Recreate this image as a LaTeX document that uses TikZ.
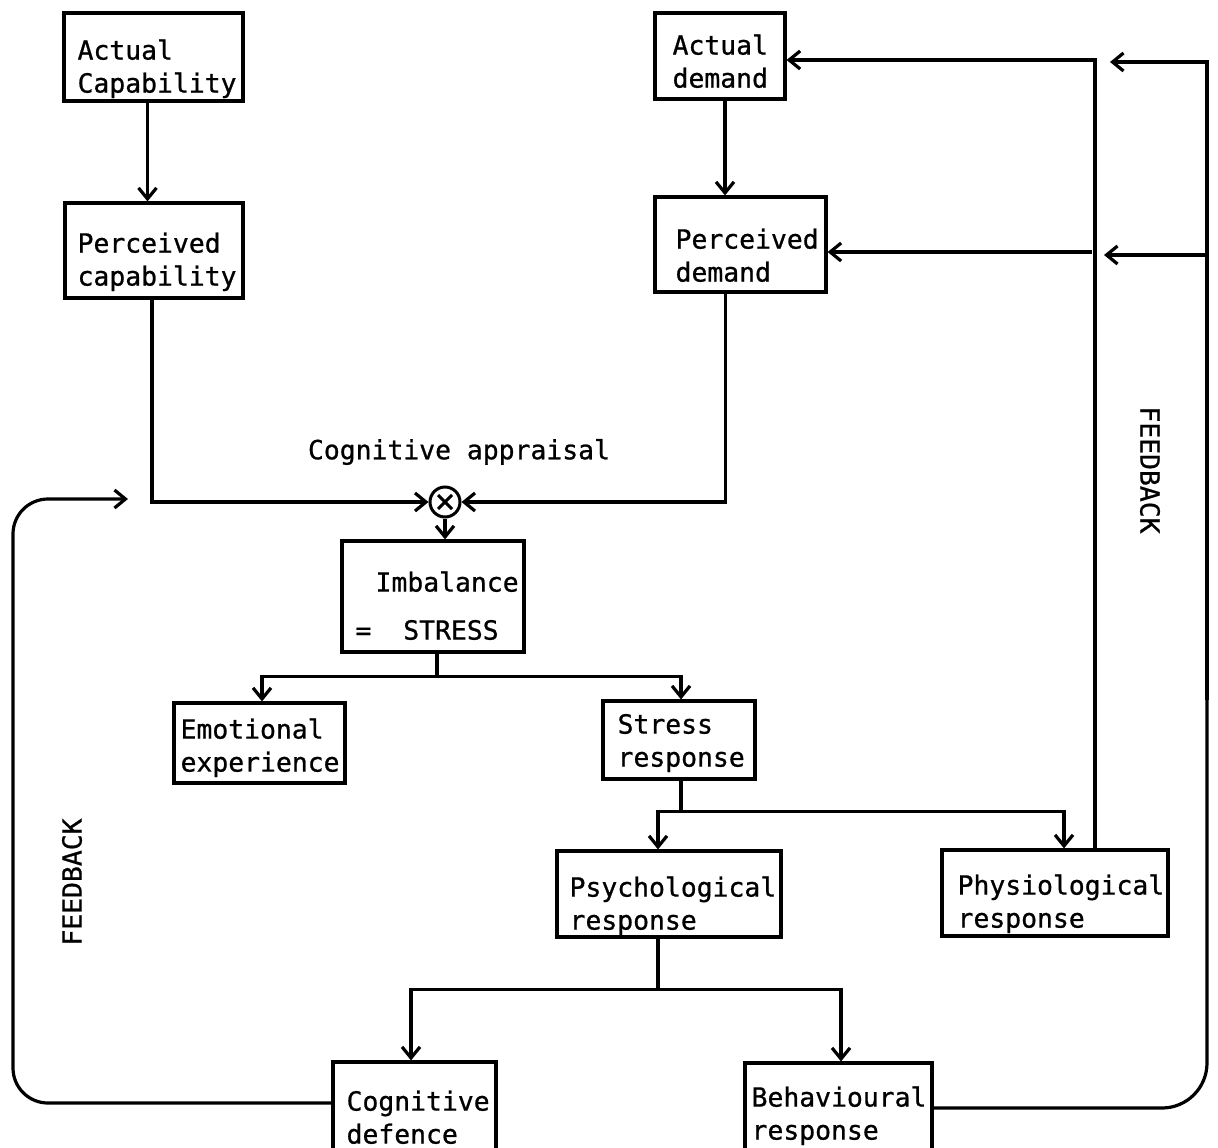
\documentclass[tikz,border=0pt]{standalone}
\usepackage{fontspec}
\setmainfont{DejaVu Sans Mono}[FakeBold=0.8]
\usetikzlibrary{arrows.meta}
\begin{document}
\begin{tikzpicture}[x=1pt,y=-1pt,line width=3.2pt,
  >={Straight Barb[length=11pt,width=18pt]},
  box/.style={draw,rectangle,line width=3.2pt,inner sep=0pt},
  txt/.style={align=left,inner sep=0pt,anchor=north west,
              font=\fontsize{26.4}{33}\selectfont},
  lbl/.style={font=\fontsize{26.4}{33}\selectfont,inner sep=0pt}]
\clip (0,0) rectangle (1218,1148);
\fill[white] (0,0) rectangle (1218,1148);
% \fl gives every first line the same fixed height, so a text's top edge
% lies 25pt above its first baseline
\newcommand{\fl}{\rule{0pt}{25pt}}

% boxes
\node[box,minimum width=179pt,minimum height=88pt] (ac) at (153.5,57) {};
\node[box,minimum width=178pt,minimum height=95pt] (pc) at (154,250.5) {};
\node[box,minimum width=130pt,minimum height=86pt] (ad) at (720,56) {};
\node[box,minimum width=171pt,minimum height=95pt] (pd) at (740.5,244.5) {};
\node[box,minimum width=182pt,minimum height=111pt] (imb) at (433,596.5) {};
\node[box,minimum width=171pt,minimum height=80pt] (emo) at (259.5,743) {};
\node[box,minimum width=152pt,minimum height=78pt] (sr) at (679,740) {};
\node[box,minimum width=224pt,minimum height=86pt] (psy) at (669,894) {};
\node[box,minimum width=226pt,minimum height=86pt] (phy) at (1055,893) {};
\node[box,minimum width=163pt,minimum height=108pt] (cog) at (414.5,1116) {};
\node[box,minimum width=187pt,minimum height=98pt] (beh) at (838.5,1112) {};

% box texts (placed by first baseline minus 25pt)
\node[txt] (ac-t)  at (76,33)    {\fl Actual\\Capability};
\node[txt] (pc-t)  at (76,226)   {\fl Perceived\\capability};
\node[txt] (ad-t)  at (671,28)   {\fl Actual\\demand};
\node[txt] (pd-t)  at (674,222)  {\fl Perceived\\demand};
\node[txt] (imb-t) at (354,565)  {\fl\hspace*{20pt}Imbalance\\[15pt]=\ \ STRESS};
\node[txt] (emo-t) at (179,712)  {\fl Emotional\\experience};
\node[txt] (sr-t)  at (616,707)  {\fl Stress\\response};
\node[txt] (psy-t) at (568,870)  {\fl Psychological\\response};
\node[txt] (phy-t) at (956,868)  {\fl Physiological\\response};
\node[txt] (cog-t) at (345,1084) {\fl Cognitive\\defence};
\node[txt] (beh-t) at (750,1080) {\fl Behavioural\\response};

% comparator
\node[circle,draw,minimum size=30pt,inner sep=0pt,line width=3pt] (ot) at (445,502) {};
\draw[line width=3pt] (ot.center) +(-7,-7) -- +(7,7);
\draw[line width=3pt] (ot.center) +(-7,7) -- +(7,-7);

% labels
\node[lbl] (ca) at (459,452) {Cognitive appraisal};
\node[lbl,rotate=-90] (fbr) at (1150,470) {FEEDBACK};
\node[lbl,rotate=90] (fbl) at (72,882) {FEEDBACK};

% appraisal
\draw[->] ([xshift=-6pt]ac.south) -- ([xshift=-6pt]ac.south |- pc.north);
\draw[->] ([xshift=5pt]ad.south) -- ([xshift=5pt]ad.south |- pd.north);
\draw[->] ([xshift=-2pt]pc.south) |- (ot.west);
\draw[->] ([xshift=-15pt]pd.south) |- (ot.east);
\draw[->] (ot.south) -- (ot.south |- imb.north);

% responses
\draw ([xshift=4pt]imb.south) -- ++(0,23) coordinate (j1);
\draw[->] (j1) -| ([xshift=2.5pt]emo.north);
\draw[->] (j1) -| ([xshift=2pt]sr.north);
\draw ([xshift=2pt]sr.south) -- ++(0,31) coordinate (j2);
\draw[->] (j2) -| ([xshift=-11pt]psy.north);
\draw[->] (j2) -| ([xshift=9pt]phy.north);
\draw ([xshift=-11pt]psy.south) -- ++(0,51) coordinate (j3);
\draw[->] (j3) -| ([xshift=-3.5pt]cog.north);
\draw[->] (j3) -| ([xshift=2.5pt]beh.north);

% feedback from the physiological response
\draw[->] ([xshift=40pt]phy.north) |- ([yshift=-4pt]ad.east);
\coordinate (fb1) at (1092,252);
\draw[->] (fb1) -- (fb1 -| pd.east);

% feedback from the behavioural response
\coordinate (fr1) at (1207,700);
\coordinate (fo1) at (1110,62);
\coordinate (fo2) at (1104,255);
\coordinate (fr2) at (1207,255);
\draw[rounded corners=45pt] ([yshift=4pt]beh.east) -| (fr1);
\draw[->] (fr1) |- (fo1);
\draw[->] (fr2) -- (fo2);

% feedback from the cognitive defence
\coordinate (fl) at (128,499);
\draw[->,rounded corners=35pt] ([yshift=13pt]cog.west) -| (13,499) -- (fl);
\end{tikzpicture}
\end{document}
